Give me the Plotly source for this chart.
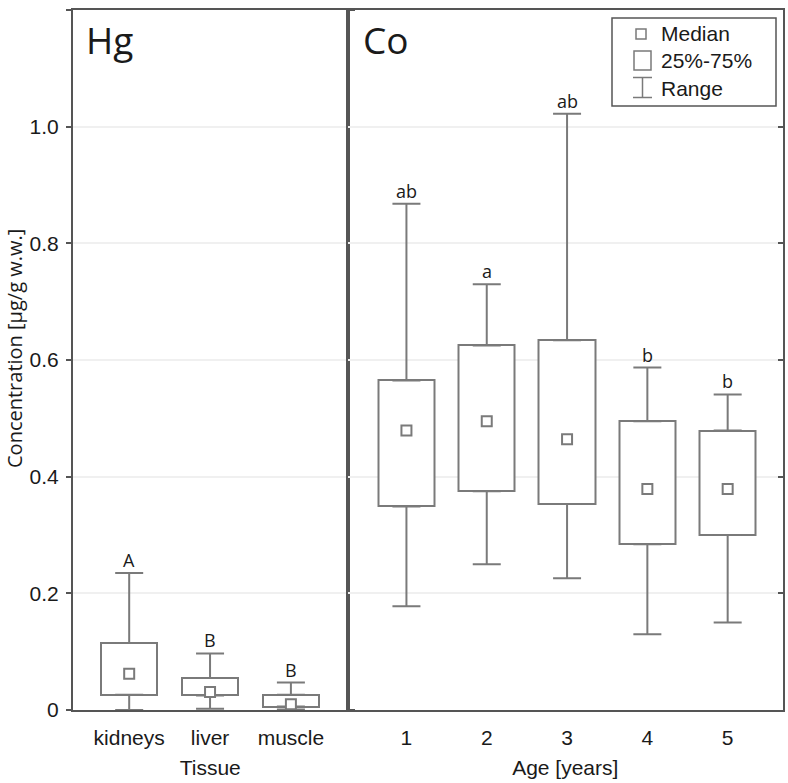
import plotly.graph_objects as go

# ---------------- data ----------------
tissues = ["kidneys", "liver", "muscle"]
hg_min = [0.000, 0.002, 0.001]
hg_q1 = [0.026, 0.025, 0.006]
hg_med = [0.062, 0.031, 0.010]
hg_q3 = [0.115, 0.055, 0.026]
hg_max = [0.235, 0.097, 0.047]
hg_letters = ["A", "B", "B"]

ages = [1, 2, 3, 4, 5]
co_min = [0.178, 0.250, 0.226, 0.130, 0.150]
co_q1 = [0.349, 0.375, 0.353, 0.284, 0.300]
co_med = [0.479, 0.495, 0.464, 0.379, 0.379]
co_q3 = [0.565, 0.625, 0.634, 0.495, 0.479]
co_max = [0.868, 0.730, 1.022, 0.587, 0.541]
co_letters = ["ab", "a", "ab", "b", "b"]

y_ticks = [0, 0.2, 0.4, 0.6, 0.8, 1.0, 1.2]
y_ticktext = ["0", "0.2", "0.4", "0.6", "0.8", "1.0", "1.2"]

# ---------------- style ----------------
BOX = "#7a7a7a"
FRAME = "#555555"
TXT = "#1a1a1a"
GRID = "#f0f0f0"
TICKFONT = dict(family="Liberation Sans, Arial", size=21, color=TXT)
LETTERFONT = dict(family="Open Sans", size=18, color=TXT)

W, H = 788, 783
ML, MR, MT, MB = 73, 5, 10, 73
PW, PH = W - ML - MR, H - MT - MB
split = (347.5 - ML) / PW


def px(xp):
    return (xp - ML) / PW


def py(yp):
    return (MT + PH - yp) / PH


fig = go.Figure()


def add_panel(xs, q1, med, q3, mn, mx, letters, xa, ya):
    diff = [b - a for a, b in zip(q1, q3)]
    fig.add_trace(go.Bar(x=xs, y=diff, base=q1, width=0.7, xaxis=xa, yaxis=ya,
                         marker=dict(color="white", line=dict(color=BOX, width=2)),
                         showlegend=False, hoverinfo="skip"))
    up = [b - a for a, b in zip(q3, mx)]
    fig.add_trace(go.Scatter(x=xs, y=q3, mode="markers", xaxis=xa, yaxis=ya,
                             marker=dict(size=1, color="rgba(0,0,0,0)"),
                             error_y=dict(type="data", symmetric=False, array=up,
                                          arrayminus=[0] * len(xs), color=BOX,
                                          thickness=2, width=14),
                             showlegend=False, hoverinfo="skip"))
    dn = [a - b for a, b in zip(q1, mn)]
    fig.add_trace(go.Scatter(x=xs, y=q1, mode="markers", xaxis=xa, yaxis=ya,
                             marker=dict(size=1, color="rgba(0,0,0,0)"),
                             error_y=dict(type="data", symmetric=False, array=[0] * len(xs),
                                          arrayminus=dn, color=BOX,
                                          thickness=2, width=14),
                             showlegend=False, hoverinfo="skip"))
    fig.add_trace(go.Scatter(x=xs, y=med, mode="markers", xaxis=xa, yaxis=ya,
                             marker=dict(symbol="square", size=10, color="white",
                                         line=dict(color=BOX, width=2)),
                             showlegend=False, hoverinfo="skip"))
    for x, y, t in zip(xs, mx, letters):
        fig.add_annotation(x=x, y=y, xref=xa, yref=ya, text=t, showarrow=False,
                           yanchor="bottom", yshift=-1, font=LETTERFONT)


add_panel(tissues, hg_q1, hg_med, hg_q3, hg_min, hg_max, hg_letters, "x", "y")
add_panel(ages, co_q1, co_med, co_q3, co_min, co_max, co_letters, "x2", "y2")

axis_common = dict(showline=True, linecolor=FRAME, linewidth=2, mirror=True,
                   ticks="", tickfont=TICKFONT, showgrid=False, zeroline=False,
                   automargin=False, ticklabelstandoff=8)

fig.update_layout(
    width=W, height=H,
    margin=dict(l=ML, r=MR, t=MT, b=MB, autoexpand=False),
    paper_bgcolor="white", plot_bgcolor="white",
    bargap=0,
    xaxis=dict(domain=[0, split], type="category", range=[-0.695, 2.70],
               title=dict(text="Tissue", font=TICKFONT, standoff=12), **axis_common),
    xaxis2=dict(domain=[split, 1], anchor="y2", range=[0.266, 5.689],
                tickvals=ages, ticktext=[str(a) for a in ages],
                title=dict(text="Age [years]", font=TICKFONT, standoff=12), **axis_common),
    yaxis=dict(domain=[0, 1], anchor="x", range=[0, 1.2], tickvals=y_ticks,
               ticktext=y_ticktext, tickfont=TICKFONT, ticks="outside", ticklen=5,
               tickcolor=FRAME, tickwidth=1.5, showline=True, linecolor=FRAME,
               linewidth=2, mirror="ticks", showgrid=True, gridcolor=GRID,
               gridwidth=1.5, zeroline=False, automargin=False, ticklabelstandoff=3),
    yaxis2=dict(domain=[0, 1], anchor="x2", matches="y", range=[0, 1.2], tickvals=y_ticks,
                side="right", showticklabels=False, ticks="inside", ticklen=5,
                tickcolor=FRAME, tickwidth=1.5, showline=True, linecolor=FRAME,
                linewidth=2, mirror=True, showgrid=True, gridcolor=GRID,
                gridwidth=1.5, zeroline=False, automargin=False),
)

# y-axis title (placed as rotated text)
fig.add_annotation(xref="paper", yref="paper", x=px(14), y=py(349),
                   text="Concentration [μg/g w.w.]", textangle=-90, showarrow=False,
                   xanchor="center", yanchor="middle", borderpad=0,
                   font=dict(family="Open Sans", size=20, color=TXT))

# panel labels
fig.add_annotation(xref="paper", yref="paper", x=px(84), y=py(12), text="Hg",
                   showarrow=False, xanchor="left", yanchor="top",
                   font=dict(family="Open Sans", size=37, color=TXT))
fig.add_annotation(xref="paper", yref="paper", x=px(361), y=py(12), text="Co",
                   showarrow=False, xanchor="left", yanchor="top",
                   font=dict(family="Open Sans", size=37, color=TXT))

# legend (drawn)
fig.add_shape(type="rect", xref="paper", yref="paper", x0=px(612), x1=px(776),
              y0=py(106), y1=py(18), line=dict(color=FRAME, width=1.5), fillcolor="white")
fig.add_shape(type="rect", xref="paper", yref="paper", x0=px(636), x1=px(646),
              y0=py(39), y1=py(29), line=dict(color=BOX, width=1.5))
fig.add_shape(type="rect", xref="paper", yref="paper", x0=px(634), x1=px(651),
              y0=py(70), y1=py(51), line=dict(color=BOX, width=1.5))
fig.add_shape(type="line", xref="paper", yref="paper", x0=px(642.5), x1=px(642.5),
              y0=py(97.5), y1=py(77.5), line=dict(color=BOX, width=1.5))
fig.add_shape(type="line", xref="paper", yref="paper", x0=px(633), x1=px(652),
              y0=py(77.5), y1=py(77.5), line=dict(color=BOX, width=1.5))
fig.add_shape(type="line", xref="paper", yref="paper", x0=px(633), x1=px(652),
              y0=py(97.5), y1=py(97.5), line=dict(color=BOX, width=1.5))
for label, yc in [("Median", 34), ("25%-75%", 61), ("Range", 88)]:
    fig.add_annotation(xref="paper", yref="paper", x=px(659), y=py(yc), text=label,
                       showarrow=False, xanchor="left", yanchor="middle",
                       font=dict(family="Liberation Sans, Arial", size=21, color=TXT))

fig.write_html("out.html", config={"displayModeBar": False},
               post_script="document.body.style.margin='0px';document.body.style.overflow='hidden';")
